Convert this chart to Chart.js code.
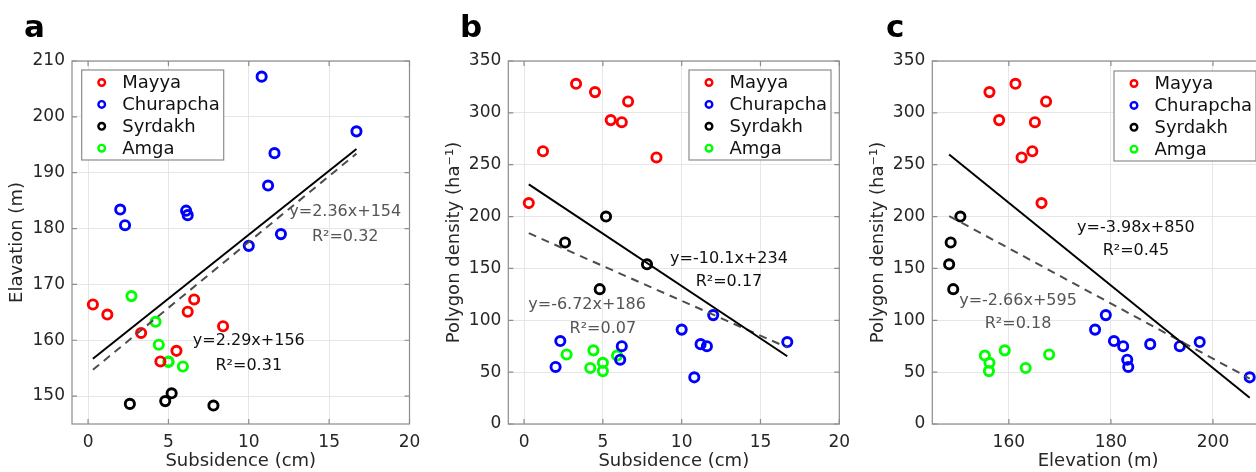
<!DOCTYPE html>
<html>
<head>
<meta charset="utf-8">
<script src="https://cdn.jsdelivr.net/npm/chart.js@4/dist/chart.umd.min.js"></script>
<style>
	html, body { margin: 0; padding: 0; background: #fff; }
	body { width: 1256px; height: 472px; overflow: hidden; position: relative; }
	.panel { position: absolute; top: 0; height: 472px; }
</style>
</head>
<body>
<div class="panel" style="left:0px"><canvas id="chartA" width="420" height="472"></canvas></div>
<div class="panel" style="left:420px"><canvas id="chartB" width="430" height="472"></canvas></div>
<div class="panel" style="left:850px"><canvas id="chartC" width="430" height="472"></canvas></div>
<script>
// sites and their colours
const sites = ["Mayya", "Churapcha", "Syrdakh", "Amga"];
const siteColors = ["#ff0000", "#0000ff", "#000000", "#00ff00"];

// subsidence (cm)
const mayyaSubsidence = [0.3, 1.2, 3.3, 4.5, 5.5, 6.2, 6.6, 8.4];
const churapchaSubsidence = [2.0, 2.3, 6.1, 6.2, 10.0, 10.8, 11.2, 11.6, 12.0, 16.7];
const syrdakhSubsidence = [2.6, 4.8, 5.2, 7.8];
const amgaSubsidence = [2.7, 4.2, 4.4, 5.0, 5.0, 5.9];

// elevation (m)
const mayyaElevation = [166.4, 164.6, 161.3, 156.2, 158.1, 165.1, 167.3, 162.5];
const churapchaElevation = [183.4, 180.6, 183.2, 182.4, 176.9, 207.2, 187.7, 193.5, 179.0, 197.4];
const syrdakhElevation = [148.6, 149.1, 150.5, 148.3];
const amgaElevation = [167.9, 163.3, 159.2, 156.2, 156.1, 155.3];

// polygon density (ha-1)
const mayyaDensity = [213, 263, 328, 320, 293, 291, 311, 257];
const churapchaDensity = [55, 80, 62, 75, 91, 45, 77, 75, 105, 79];
const syrdakhDensity = [175, 130, 200, 154];
const amgaDensity = [67, 54, 71, 59, 51, 66];

// regression fits [slope, intercept]
const fitSolidA = [2.29, 156];
const fitDashedA = [2.36, 154];
const fitSolidB = [-10.1, 234];
const fitDashedB = [-6.72, 186];
const fitSolidC = [-3.98, 850];
const fitDashedC = [-2.66, 595];

// equation labels
const eqSolidA = ["y=2.29x+156", "R²=0.31"];
const eqDashedA = ["y=2.36x+154", "R²=0.32"];
const eqSolidB = ["y=-10.1x+234", "R²=0.17"];
const eqDashedB = ["y=-6.72x+186", "R²=0.07"];
const eqSolidC = ["y=-3.98x+850", "R²=0.45"];
const eqDashedC = ["y=-2.66x+595", "R²=0.18"];

// tick labels
const subsidenceTicks = [0, 5, 10, 15, 20];
const elevationTicks = [150, 160, 170, 180, 190, 200, 210];
const densityTicks = [0, 50, 100, 150, 200, 250, 300, 350];
const elevationTicksC = [160, 180, 200];

const subsidence = [mayyaSubsidence, churapchaSubsidence, syrdakhSubsidence, amgaSubsidence];
const elevation = [mayyaElevation, churapchaElevation, syrdakhElevation, amgaElevation];
const density = [mayyaDensity, churapchaDensity, syrdakhDensity, amgaDensity];

const FONT = "'DejaVu Sans', sans-serif";
const TEXT = "#262626";
const GRAY = "#8c8c8c";
const EQ_GRAY = "#555555";

// regression line across the x range of the data
function fitLine(fit, xs) {
	const all = xs.flat();
	const lo = Math.min(...all);
	const hi = Math.max(...all);
	return [
		{ x: lo, y: fit[0] * lo + fit[1] },
		{ x: hi, y: fit[0] * hi + fit[1] },
	];
}

// frame, equations, legend and panel letter
function decor(p) {
	return {
		id: "decor",
		afterDraw(chart) {
			const { ctx, chartArea: ca, scales } = chart;
			ctx.save();
			ctx.strokeStyle = GRAY;
			ctx.lineWidth = 1.2;
			ctx.strokeRect(ca.left, ca.top, ca.right - ca.left, ca.bottom - ca.top);

			// little inward tick marks on all four sides
			const tl = 5;
			ctx.beginPath();
			scales.x.ticks.forEach((t) => {
				const px = scales.x.getPixelForValue(t.value);
				ctx.moveTo(px, ca.bottom); ctx.lineTo(px, ca.bottom - tl);
				ctx.moveTo(px, ca.top); ctx.lineTo(px, ca.top + tl);
			});
			scales.y.ticks.forEach((t) => {
				const py = scales.y.getPixelForValue(t.value);
				ctx.moveTo(ca.left, py); ctx.lineTo(ca.left + tl, py);
				ctx.moveTo(ca.right, py); ctx.lineTo(ca.right - tl, py);
			});
			ctx.stroke();

			// equations
			ctx.font = "16px " + FONT;
			ctx.textAlign = "center";
			ctx.textBaseline = "middle";
			p.equations.forEach((e) => {
				ctx.fillStyle = e.color;
				ctx.fillText(e.text, scales.x.getPixelForValue(e.x), scales.y.getPixelForValue(e.y));
			});

			// legend box
			const lx = p.legendX, ly = p.legendY;
			ctx.fillStyle = "#fff";
			ctx.fillRect(lx, ly, 142, 90);
			ctx.strokeStyle = GRAY;
			ctx.lineWidth = 1.2;
			ctx.strokeRect(lx, ly, 142, 90);
			ctx.font = "18px " + FONT;
			ctx.textAlign = "left";
			sites.forEach((s, i) => {
				const cy = ly + 12.5 + i * 21.9;
				ctx.beginPath();
				ctx.arc(lx + 20, cy, 3.3, 0, Math.PI * 2);
				ctx.lineWidth = 2.4;
				ctx.strokeStyle = siteColors[i];
				ctx.stroke();
				ctx.fillStyle = "#111";
				ctx.fillText(s, lx + 40.5, cy + 1);
			});

			// panel letter
			ctx.font = "bold 31px " + FONT;
			ctx.textBaseline = "alphabetic";
			ctx.fillStyle = "#000";
			ctx.fillText(p.letter, p.letterX, 37);
			ctx.restore();
		},
	};
}

function makeChart(id, p) {
	const datasets = [
		{
			data: fitLine(p.fitSolid, p.xs),
			showLine: true,
			borderColor: "#000",
			borderWidth: 2,
			pointRadius: 0,
			order: 0,
		},
		{
			data: fitLine(p.fitDashed, p.xs),
			showLine: true,
			borderColor: "#4d4d4d",
			borderWidth: 2,
			borderDash: [8, 6],
			pointRadius: 0,
			order: 0,
		},
	];
	sites.forEach((s, i) => {
		datasets.push({
			label: s,
			data: p.xs[i].map((v, k) => ({ x: v, y: p.ys[i][k] })),
			pointRadius: 4.6,
			pointBorderWidth: 2.9,
			pointBorderColor: siteColors[i],
			pointBackgroundColor: "rgba(0,0,0,0)",
			order: 1,
		});
	});

	return new Chart(document.getElementById(id), {
		type: "scatter",
		data: { datasets: datasets },
		options: {
			responsive: false,
			animation: false,
			layout: { padding: { left: 0, top: 61, right: p.rightPad, bottom: 0 } },
			scales: {
				x: {
					min: p.xMin,
					max: p.xMax,
					afterBuildTicks: (s) => { s.ticks = p.xTicks.map((v) => ({ value: v })); },
					afterFit: (s) => {
						s.height = 48;
						// keep the plot box fixed, labels may overhang
						s.paddingLeft = 0;
						s.paddingRight = 0;
					},
					grid: { color: "#e6e6e6", drawTicks: false },
					border: { display: false },
					ticks: { padding: 8, color: TEXT, font: { family: FONT, size: 17 }, maxRotation: 0 },
					title: { display: true, text: p.xTitle, color: TEXT, font: { family: FONT, size: 18 }, padding: { top: 0, bottom: 0 } },
				},
				y: {
					min: p.yMin,
					max: p.yMax,
					afterBuildTicks: (s) => { s.ticks = p.yTicks.map((v) => ({ value: v })); },
					afterFit: (s) => {
						s.width = p.yAxisWidth;
						s.paddingTop = 0;
						s.paddingBottom = 0;
					},
					grid: { color: "#e6e6e6", drawTicks: false },
					border: { display: false },
					ticks: { padding: 7, color: TEXT, font: { family: FONT, size: 17 } },
					title: { display: true, text: p.yTitle, color: TEXT, font: { family: FONT, size: 18 }, padding: { top: p.yTitlePad, bottom: 0 } },
				},
			},
			plugins: {
				legend: { display: false },
				tooltip: { enabled: false },
			},
		},
		plugins: [decor(p)],
	});
}

// a: elevation vs subsidence
makeChart("chartA", {
	xs: subsidence, ys: elevation,
	xMin: -1, xMax: 20, yMin: 145, yMax: 210,
	xTicks: subsidenceTicks, yTicks: elevationTicks,
	xTitle: "Subsidence (cm)", yTitle: "Elavation (m)",
	yAxisWidth: 72, rightPad: 10.5, yTitlePad: 7,
	fitSolid: fitSolidA, fitDashed: fitDashedA,
	equations: [
		{ text: eqDashedA[0], x: 16.0, y: 182.9, color: EQ_GRAY },
		{ text: eqDashedA[1], x: 16.0, y: 178.5, color: EQ_GRAY },
		{ text: eqSolidA[0], x: 10.0, y: 159.9, color: "#111" },
		{ text: eqSolidA[1], x: 10.0, y: 155.4, color: "#111" },
	],
	legendX: 81.7, legendY: 70,
	letter: "a", letterX: 24,
});

// b: polygon density vs subsidence
makeChart("chartB", {
	xs: subsidence, ys: density,
	xMin: -1, xMax: 20, yMin: 0, yMax: 350,
	xTicks: subsidenceTicks, yTicks: densityTicks,
	xTitle: "Subsidence (cm)", yTitle: "Polygon density (ha⁻¹)",
	yAxisWidth: 88.3, rightPad: 10.7, yTitlePad: 24,
	fitSolid: fitSolidB, fitDashed: fitDashedB,
	equations: [
		{ text: eqSolidB[0], x: 13.0, y: 159, color: "#111" },
		{ text: eqSolidB[1], x: 13.0, y: 137, color: "#111" },
		{ text: eqDashedB[0], x: 4.0, y: 115, color: EQ_GRAY },
		{ text: eqDashedB[1], x: 5.0, y: 92, color: EQ_GRAY },
	],
	legendX: 269, legendY: 70,
	letter: "b", letterX: 40,
});

// c: polygon density vs elevation
makeChart("chartC", {
	xs: elevation, ys: density,
	xMin: 145, xMax: 210, yMin: 0, yMax: 350,
	xTicks: elevationTicksC, yTicks: densityTicks,
	xTitle: "Elevation (m)", yTitle: "Polygon density (ha⁻¹)",
	yAxisWidth: 82.3, rightPad: 16, yTitlePad: 18,
	fitSolid: fitSolidC, fitDashed: fitDashedC,
	equations: [
		{ text: eqSolidC[0], x: 184.9, y: 189, color: "#111" },
		{ text: eqSolidC[1], x: 184.9, y: 167, color: "#111" },
		{ text: eqDashedC[0], x: 161.8, y: 119, color: EQ_GRAY },
		{ text: eqDashedC[1], x: 161.8, y: 97, color: EQ_GRAY },
	],
	legendX: 264, legendY: 71,
	letter: "c", letterX: 36,
});
</script>
</body>
</html>
